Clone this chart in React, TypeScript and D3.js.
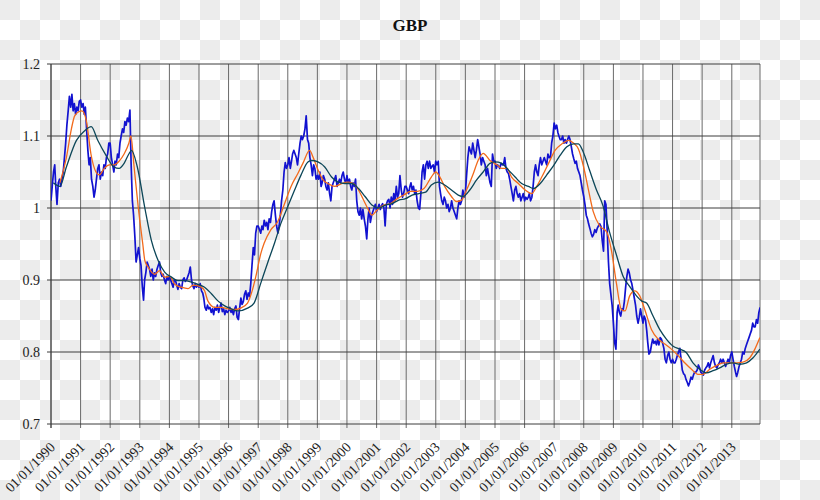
import * as d3 from "d3";

const width = 820;
const height = 500;
const plotLeft = 51;
const plotRight = 760;
const plotTop = 64;
const plotBottom = 424;

// semi-monthly readings (1st and 16th of each month), one row per year
const rate1990 = [1.01, 1.03, 1.05, 1.06, 1.03, 1.005, 1.035, 1.04, 1.03, 1.04, 1.05, 1.07, 1.09, 1.115, 1.135, 1.155, 1.14, 1.158, 1.135, 1.145, 1.13, 1.14, 1.135, 1.148];
const rate1991 = [1.15, 1.14, 1.145, 1.13, 1.14, 1.11, 1.08, 1.06, 1.07, 1.04, 1.03, 1.015, 1.025, 1.04, 1.055, 1.06, 1.04, 1.05, 1.045, 1.06, 1.055, 1.07, 1.075, 1.09];
const rate1992 = [1.09, 1.07, 1.06, 1.05, 1.065, 1.06, 1.075, 1.07, 1.09, 1.1, 1.11, 1.105, 1.12, 1.115, 1.125, 1.12, 1.136, 1.06, 1.01, 0.99, 0.96, 0.925, 0.935, 0.945];
const rate1993 = [0.93, 0.92, 0.89, 0.872, 0.9, 0.91, 0.925, 0.92, 0.915, 0.905, 0.915, 0.9, 0.91, 0.905, 0.915, 0.92, 0.925, 0.91, 0.905, 0.908, 0.9, 0.895, 0.905, 0.9];
const rate1994 = [0.905, 0.9, 0.895, 0.89, 0.9, 0.9, 0.893, 0.887, 0.895, 0.89, 0.888, 0.9, 0.903, 0.898, 0.9, 0.905, 0.91, 0.918, 0.9, 0.892, 0.888, 0.895, 0.89, 0.893];
const rate1995 = [0.89, 0.895, 0.885, 0.882, 0.875, 0.862, 0.858, 0.865, 0.86, 0.862, 0.855, 0.86, 0.852, 0.862, 0.858, 0.865, 0.855, 0.862, 0.868, 0.856, 0.86, 0.852, 0.858, 0.855];
const rate1996 = [0.857, 0.862, 0.855, 0.858, 0.852, 0.86, 0.864, 0.848, 0.845, 0.86, 0.875, 0.866, 0.87, 0.88, 0.885, 0.873, 0.882, 0.877, 0.895, 0.92, 0.945, 0.935, 0.965, 0.975];
const rate1997 = [0.975, 0.97, 0.965, 0.975, 0.97, 0.983, 0.975, 0.98, 0.97, 0.985, 0.98, 0.995, 1.005, 1.01, 0.99, 0.975, 0.965, 0.975, 0.99, 1.01, 1.025, 1.05, 1.063, 1.055];
const rate1998 = [1.06, 1.07, 1.055, 1.065, 1.075, 1.08, 1.075, 1.07, 1.06, 1.075, 1.09, 1.1, 1.095, 1.1, 1.11, 1.128, 1.095, 1.09, 1.07, 1.06, 1.045, 1.06, 1.055, 1.04];
const rate1999 = [1.045, 1.04, 1.05, 1.03, 1.035, 1.045, 1.04, 1.03, 1.025, 1.035, 1.02, 1.01, 1.03, 1.035, 1.04, 1.045, 1.03, 1.035, 1.04, 1.035, 1.045, 1.05, 1.04, 1.035];
const rate2000 = [1.045, 1.035, 1.04, 1.03, 1.025, 1.035, 1.03, 1.04, 1.01, 0.995, 0.99, 1.0, 0.985, 0.998, 0.985, 0.975, 0.957, 0.985, 1.0, 0.98, 0.99, 0.995, 1.0, 1.005];
const rate2001 = [0.995, 1.0, 1.005, 0.998, 1.003, 1.006, 1.0, 0.975, 1.005, 1.01, 1.012, 1.0, 1.015, 1.005, 1.02, 1.01, 1.03, 1.015, 1.02, 1.045, 1.025, 1.015, 1.02, 1.03];
const rate2002 = [1.03, 1.025, 1.02, 1.03, 1.035, 1.025, 1.03, 1.02, 1.025, 1.01, 1.0, 0.998, 1.02, 1.05, 1.06, 1.04, 1.06, 1.065, 1.055, 1.065, 1.055, 1.058, 1.06, 1.05];
const rate2003 = [1.065, 1.06, 1.065, 1.03, 1.02, 1.01, 1.005, 1.015, 1.01, 1.0, 1.005, 0.995, 1.0, 1.01, 1.0, 0.995, 0.99, 0.985, 1.0, 1.01, 1.005, 1.01, 1.025, 1.015];
const rate2004 = [1.02, 1.045, 1.07, 1.085, 1.08, 1.075, 1.09, 1.08, 1.07, 1.08, 1.095, 1.085, 1.075, 1.06, 1.07, 1.065, 1.06, 1.045, 1.055, 1.045, 1.035, 1.03, 1.075, 1.065];
const rate2005 = [1.065, 1.055, 1.06, 1.058, 1.055, 1.062, 1.06, 1.06, 1.07, 1.055, 1.05, 1.048, 1.04, 1.03, 1.02, 1.01, 1.025, 1.03, 1.02, 1.015, 1.02, 1.01, 1.015, 1.02];
const rate2006 = [1.01, 1.015, 1.012, 1.015, 1.02, 1.01, 1.015, 1.03, 1.05, 1.06, 1.05, 1.045, 1.06, 1.07, 1.06, 1.065, 1.07, 1.065, 1.06, 1.075, 1.07, 1.07, 1.09, 1.1];
const rate2007 = [1.118, 1.11, 1.115, 1.105, 1.1, 1.095, 1.095, 1.1, 1.09, 1.095, 1.09, 1.095, 1.1, 1.095, 1.085, 1.075, 1.068, 1.062, 1.065, 1.055, 1.05, 1.045, 1.035, 1.025];
const rate2008 = [1.016, 1.005, 0.99, 0.985, 0.978, 0.972, 0.965, 0.96, 0.963, 0.97, 0.966, 0.972, 0.975, 0.978, 0.974, 0.955, 0.94, 1.01, 1.005, 0.97, 0.925, 0.895, 0.88, 0.865];
const rate2009 = [0.84, 0.813, 0.804, 0.855, 0.865, 0.855, 0.85, 0.86, 0.858, 0.87, 0.89, 0.905, 0.915, 0.91, 0.9, 0.895, 0.885, 0.875, 0.865, 0.85, 0.84, 0.848, 0.86, 0.85];
const rate2010 = [0.84, 0.85, 0.845, 0.83, 0.813, 0.797, 0.8, 0.81, 0.818, 0.812, 0.815, 0.81, 0.818, 0.81, 0.82, 0.818, 0.812, 0.805, 0.79, 0.785, 0.795, 0.8, 0.79, 0.785];
const rate2011 = [0.79, 0.785, 0.785, 0.79, 0.795, 0.8, 0.805, 0.79, 0.775, 0.77, 0.768, 0.762, 0.758, 0.753, 0.758, 0.765, 0.762, 0.768, 0.772, 0.772, 0.775, 0.782, 0.778, 0.772];
const rate2012 = [0.77, 0.768, 0.775, 0.778, 0.78, 0.785, 0.778, 0.785, 0.79, 0.795, 0.785, 0.78, 0.778, 0.782, 0.785, 0.79, 0.785, 0.79, 0.785, 0.78, 0.785, 0.79, 0.785, 0.795];
const rate2013 = [0.8, 0.79, 0.78, 0.772, 0.766, 0.772, 0.78, 0.785, 0.79, 0.8, 0.797, 0.805, 0.81, 0.815, 0.82, 0.825, 0.83, 0.84, 0.835, 0.835, 0.845, 0.84, 0.855, 0.862];

const rateRows = [
  rate1990, rate1991, rate1992, rate1993, rate1994, rate1995, rate1996, rate1997,
  rate1998, rate1999, rate2000, rate2001, rate2002, rate2003, rate2004, rate2005,
  rate2006, rate2007, rate2008, rate2009, rate2010, rate2011, rate2012, rate2013,
];

// short moving average (orange): [decimal year, value]
const shortAvg: [number, number][] = [
  [1990.3, 1.035], [1990.52, 1.07], [1990.69, 1.11], [1990.8, 1.128], [1990.95, 1.134],
  [1991.05, 1.135], [1991.2, 1.12], [1991.35, 1.075], [1991.52, 1.05], [1991.63, 1.046],
  [1991.8, 1.055], [1991.97, 1.06], [1992.13, 1.06], [1992.3, 1.065], [1992.47, 1.075],
  [1992.63, 1.09], [1992.7, 1.1], [1992.8, 1.06], [1992.95, 1.0], [1993.1, 0.95],
  [1993.17, 0.927], [1993.28, 0.918], [1993.5, 0.908], [1993.67, 0.913], [1993.84, 0.904],
  [1994.01, 0.905], [1994.18, 0.894], [1994.4, 0.89], [1994.63, 0.888], [1994.8, 0.893],
  [1994.97, 0.892], [1995.08, 0.89], [1995.19, 0.885], [1995.3, 0.871], [1995.53, 0.862],
  [1995.75, 0.862], [1995.98, 0.86], [1996.2, 0.859], [1996.41, 0.861], [1996.64, 0.868],
  [1996.81, 0.887], [1996.92, 0.905], [1997.09, 0.937], [1997.2, 0.951], [1997.43, 0.97],
  [1997.66, 0.981], [1997.89, 1.006], [1998.11, 1.03], [1998.34, 1.048], [1998.51, 1.062],
  [1998.74, 1.08], [1998.85, 1.071], [1999.02, 1.053], [1999.19, 1.039], [1999.36, 1.034],
  [1999.59, 1.03], [1999.82, 1.034], [2000.05, 1.036], [2000.22, 1.034], [2000.39, 1.025],
  [2000.56, 1.011], [2000.73, 0.997], [2000.84, 0.99], [2001.01, 0.997], [2001.24, 1.004],
  [2001.47, 1.006], [2001.7, 1.013], [2001.92, 1.018], [2002.15, 1.023], [2002.38, 1.023],
  [2002.6, 1.027], [2002.85, 1.043], [2003.0, 1.05], [2003.14, 1.043], [2003.3, 1.03],
  [2003.53, 1.016], [2003.7, 1.009], [2003.87, 1.011], [2004.04, 1.025], [2004.27, 1.048],
  [2004.43, 1.066], [2004.6, 1.076], [2004.83, 1.066], [2005.06, 1.06], [2005.23, 1.055],
  [2005.4, 1.055], [2005.56, 1.043], [2005.79, 1.034], [2006.02, 1.025], [2006.24, 1.02],
  [2006.41, 1.03], [2006.58, 1.043], [2006.81, 1.062], [2007.03, 1.08], [2007.26, 1.089],
  [2007.49, 1.094], [2007.66, 1.09], [2007.82, 1.082], [2007.99, 1.058], [2008.15, 1.027],
  [2008.32, 0.995], [2008.54, 0.975], [2008.77, 0.967], [2008.93, 0.942], [2009.1, 0.896],
  [2009.27, 0.859], [2009.39, 0.857], [2009.55, 0.878], [2009.72, 0.885], [2009.89, 0.878],
  [2010.06, 0.859], [2010.29, 0.831], [2010.51, 0.818], [2010.74, 0.811], [2010.96, 0.804],
  [2011.19, 0.795], [2011.41, 0.785], [2011.64, 0.776], [2011.86, 0.769], [2012.03, 0.769],
  [2012.26, 0.776], [2012.48, 0.781], [2012.71, 0.785], [2012.93, 0.785], [2013.16, 0.785],
  [2013.38, 0.786], [2013.61, 0.792], [2013.78, 0.804], [2013.95, 0.82],
];

// long moving average (dark teal)
const longAvg: [number, number][] = [
  [1990.08, 1.035], [1990.3, 1.03], [1990.52, 1.057], [1990.86, 1.094], [1991.13, 1.107],
  [1991.36, 1.113], [1991.58, 1.094], [1991.86, 1.073], [1992.13, 1.057], [1992.3, 1.055],
  [1992.47, 1.062], [1992.63, 1.075], [1992.72, 1.08], [1992.91, 1.058], [1993.17, 1.0],
  [1993.39, 0.955], [1993.62, 0.927], [1993.84, 0.911], [1994.07, 0.904], [1994.29, 0.899],
  [1994.52, 0.899], [1994.74, 0.897], [1994.97, 0.894], [1995.19, 0.89], [1995.42, 0.881],
  [1995.64, 0.871], [1995.87, 0.864], [1996.09, 0.86], [1996.31, 0.857], [1996.64, 0.861],
  [1996.86, 0.868], [1997.09, 0.896], [1997.32, 0.924], [1997.55, 0.951], [1997.77, 0.979],
  [1998.0, 1.002], [1998.23, 1.025], [1998.45, 1.046], [1998.68, 1.064], [1998.8, 1.066],
  [1999.02, 1.064], [1999.25, 1.057], [1999.48, 1.043], [1999.7, 1.036], [1999.93, 1.034],
  [2000.16, 1.034], [2000.39, 1.027], [2000.61, 1.016], [2000.84, 1.004], [2001.07, 1.0],
  [2001.3, 1.004], [2001.52, 1.006], [2001.75, 1.011], [2001.98, 1.013], [2002.2, 1.018],
  [2002.43, 1.02], [2002.66, 1.022], [2002.85, 1.032], [2003.08, 1.036], [2003.3, 1.032],
  [2003.53, 1.025], [2003.76, 1.018], [2003.93, 1.016], [2004.15, 1.025], [2004.38, 1.039],
  [2004.6, 1.05], [2004.83, 1.062], [2005.0, 1.064], [2005.23, 1.062], [2005.45, 1.053],
  [2005.68, 1.043], [2005.9, 1.034], [2006.13, 1.03], [2006.3, 1.027], [2006.53, 1.034],
  [2006.75, 1.046], [2006.98, 1.059], [2007.2, 1.073], [2007.43, 1.085], [2007.66, 1.089],
  [2007.82, 1.089], [2007.99, 1.077], [2008.2, 1.052], [2008.43, 1.025], [2008.65, 1.003],
  [2008.88, 0.965], [2009.1, 0.935], [2009.33, 0.905], [2009.55, 0.891], [2009.78, 0.878],
  [2009.95, 0.871], [2010.12, 0.868], [2010.34, 0.85], [2010.57, 0.831], [2010.79, 0.818],
  [2011.02, 0.808], [2011.24, 0.804], [2011.47, 0.799], [2011.69, 0.785], [2011.92, 0.776],
  [2012.14, 0.771], [2012.37, 0.774], [2012.59, 0.778], [2012.82, 0.783], [2013.04, 0.785],
  [2013.27, 0.783], [2013.5, 0.785], [2013.72, 0.792], [2013.95, 0.804],
];

const yTicks = [0.7, 0.8, 0.9, 1, 1.1, 1.2];
const yTickLabels = ["0.7", "0.8", "0.9", "1", "1.1", "1.2"];
const title = "GBP";

const serif = "'Liberation Serif', 'Times New Roman', serif";

type Pt = { date: Date; value: number };

const fromDecimal = (y: number) => {
  const start = new Date(Math.floor(y), 0, 1).getTime();
  const end = new Date(Math.floor(y) + 1, 0, 1).getTime();
  return new Date(start + (y - Math.floor(y)) * (end - start));
};

const ratePoints: Pt[] = rateRows.flatMap((row, yi) =>
  row.map((value, i) => ({
    date: new Date(1990 + yi, Math.floor(i / 2), i % 2 ? 16 : 1),
    value,
  }))
);
const shortPoints: Pt[] = shortAvg.map(([y, value]) => ({ date: fromDecimal(y), value }));
const longPoints: Pt[] = longAvg.map(([y, value]) => ({ date: fromDecimal(y), value }));

export default function App() {
  const x = d3
    .scaleTime()
    .domain([new Date(1990, 0, 1), new Date(2013, 11, 15)])
    .range([plotLeft, plotRight]);
  const y = d3.scaleLinear().domain([0.7, 1.2]).range([plotBottom, plotTop]);

  const years = d3.timeYear.range(new Date(1990, 0, 1), new Date(2013, 11, 31));
  const fmt = d3.timeFormat("%d/%m/%Y");

  const rawLine = d3
    .line<Pt>()
    .x((d) => x(d.date))
    .y((d) => y(d.value));
  const smoothLine = d3
    .line<Pt>()
    .x((d) => x(d.date))
    .y((d) => y(d.value))
    .curve(d3.curveMonotoneX);

  return (
    <svg
      width={width}
      height={height}
      style={{ position: "absolute", left: 0, top: 0, display: "block" }}
    >
      <defs>
        <pattern id="checker" width={40} height={40} patternUnits="userSpaceOnUse">
          <rect width={40} height={40} fill="#ffffff" />
          <rect width={20} height={20} fill="#ececec" />
          <rect x={20} y={20} width={20} height={20} fill="#ececec" />
        </pattern>
        <clipPath id="plot">
          <rect x={plotLeft} y={plotTop - 2} width={plotRight - plotLeft} height={plotBottom - plotTop + 4} />
        </clipPath>
      </defs>
      <rect width={width} height={height} fill="url(#checker)" />

      <text
        x={410}
        y={31}
        textAnchor="middle"
        fontFamily={serif}
        fontWeight="bold"
        fontSize={17}
        fill="#111"
      >
        {title}
      </text>

      {years.map((d) => (
        <line
          key={d.getFullYear()}
          x1={x(d)}
          x2={x(d)}
          y1={plotTop}
          y2={plotBottom + 4}
          stroke="#6a6a6a"
          strokeWidth={1}
        />
      ))}
      <line x1={plotRight} x2={plotRight} y1={plotTop} y2={plotBottom} stroke="#6a6a6a" />

      {yTicks.map((t, i) => (
        <g key={t}>
          <line x1={plotLeft - 4} x2={plotRight} y1={y(t)} y2={y(t)} stroke="#3c3c3c" strokeWidth={1} />
          <text
            x={40}
            y={y(t) + 5}
            textAnchor="end"
            fontFamily={serif}
            fontSize={14}
            fill="#222"
          >
            {yTickLabels[i]}
          </text>
        </g>
      ))}
      <line x1={plotLeft} x2={plotLeft} y1={plotTop} y2={plotBottom + 4} stroke="#3c3c3c" />

      {years.map((d) => (
        <text
          key={"l" + d.getFullYear()}
          transform={`translate(${x(d) + 5},${plotBottom + 24}) rotate(-45)`}
          textAnchor="end"
          fontFamily={serif}
          fontSize={14}
          fill="#222"
        >
          {fmt(d)}
        </text>
      ))}

      <g clipPath="url(#plot)" fill="none" strokeLinejoin="round">
        <path d={rawLine(ratePoints) ?? ""} stroke="#1212d0" strokeWidth={1.7} />
        <path d={smoothLine(shortPoints) ?? ""} stroke="#f26a1b" strokeWidth={1.3} />
        <path d={smoothLine(longPoints) ?? ""} stroke="#0c4658" strokeWidth={1.3} />
      </g>
    </svg>
  );
}
